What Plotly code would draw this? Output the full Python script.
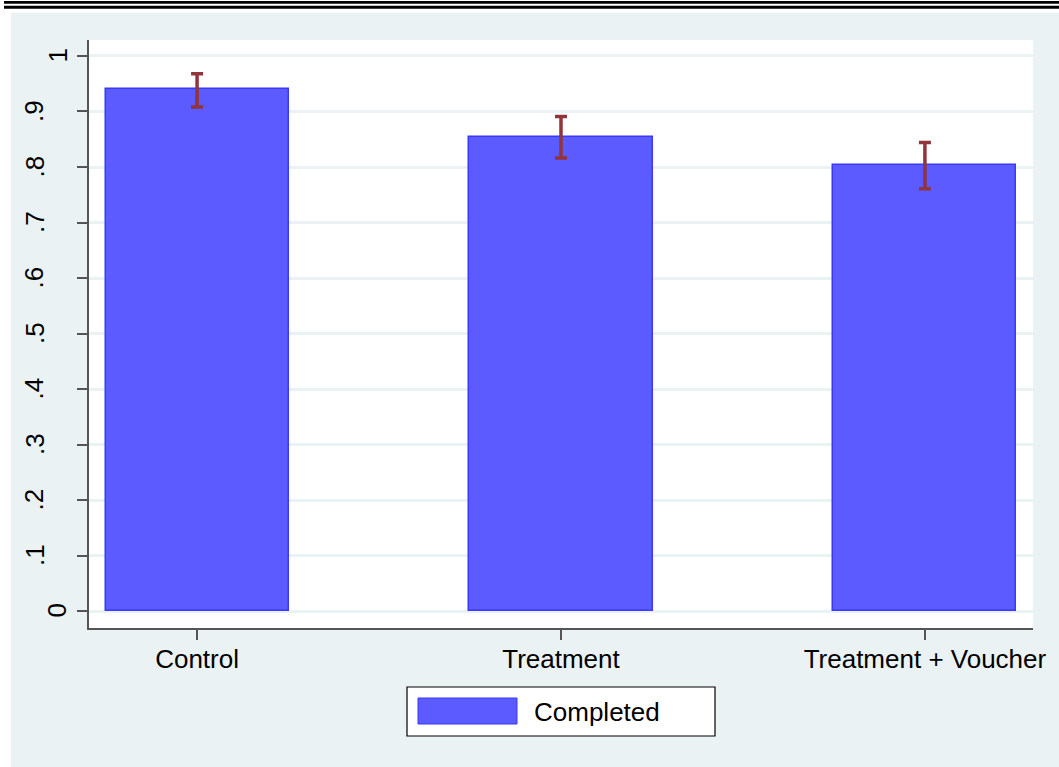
import plotly.graph_objects as go

# Data
categories = ["Control", "Treatment", "Treatment + Voucher"]
completed = [0.940, 0.854, 0.803]
ci_upper = [0.968, 0.891, 0.844]
ci_lower = [0.908, 0.816, 0.761]
y_tickvals = [0, 0.1, 0.2, 0.3, 0.4, 0.5, 0.6, 0.7, 0.8, 0.9, 1.0]
y_ticktext = ["0", ".1", ".2", ".3", ".4", ".5", ".6", ".7", ".8", ".9", "1"]
legend_label = "Completed"

W, H = 1059, 767
L, R, T, B = 89, 1033, 40, 628  # plot area in pixels

def xp(px):
    return (px - L) / (R - L)

def yp(py):
    return (B - py) / (B - T)

BG = "#EAF2F3"
BAR = "#5B5BFF"
BAR_LINE = "#3838FF"
ERR = "#90353B"
FONT = "Liberation Sans, Arial, sans-serif"

err_plus = [u - v for u, v in zip(ci_upper, completed)]
err_minus = [v - l for v, l in zip(completed, ci_lower)]

fig = go.Figure()
fig.add_trace(go.Bar(
    x=list(range(len(categories))),
    y=completed,
    width=0.503,
    name=legend_label,
    marker=dict(color=BAR, line=dict(color=BAR_LINE, width=1.5)),
    error_y=dict(type="data", symmetric=False, array=err_plus, arrayminus=err_minus,
                 color=ERR, thickness=3.5, width=6),
    showlegend=False,
    hoverinfo="skip",
))

shapes = []
# white strips on the left and top
shapes.append(dict(type="rect", xref="paper", yref="paper", x0=xp(0), x1=xp(11), y0=yp(0), y1=yp(H),
                   fillcolor="white", line=dict(width=0), layer="below"))
shapes.append(dict(type="rect", xref="paper", yref="paper", x0=xp(0), x1=xp(W), y0=yp(0), y1=yp(12.5),
                   fillcolor="white", line=dict(width=0), layer="below"))
# double black rules on top
shapes.append(dict(type="rect", xref="paper", yref="paper", x0=xp(4), x1=xp(W), y0=yp(1), y1=yp(3.7),
                   fillcolor="black", line=dict(width=0)))
shapes.append(dict(type="rect", xref="paper", yref="paper", x0=xp(4), x1=xp(W), y0=yp(5.7), y1=yp(8.7),
                   fillcolor="black", line=dict(width=0)))
# legend box
shapes.append(dict(type="rect", xref="paper", yref="paper", x0=xp(407), x1=xp(715), y0=yp(687), y1=yp(736),
                   fillcolor="white", line=dict(color="black", width=1.2)))
shapes.append(dict(type="rect", xref="paper", yref="paper", x0=xp(418), x1=xp(517), y0=yp(698), y1=yp(724),
                   fillcolor=BAR, line=dict(color=BAR_LINE, width=1)))

annotations = [dict(text=legend_label, xref="paper", yref="paper", x=xp(532), y=yp(712),
                    xanchor="left", yanchor="middle", showarrow=False,
                    font=dict(family=FONT, size=26, color="black"))]

# rotated y tick labels (Stata places single-digit labels further right)
for v, t in zip(y_tickvals, y_ticktext):
    cx = 57.5 if len(t) == 1 else 34.5
    annotations.append(dict(text=t, xref="paper", yref="y", x=xp(cx), y=v,
                            xanchor="center", yanchor="middle", textangle=-90, showarrow=False,
                            font=dict(family=FONT, size=26, color="black")))

fig.update_layout(
    width=W, height=H, autosize=False,
    margin=dict(l=L, r=W - R, t=T, b=H - B, pad=0),
    paper_bgcolor=BG, plot_bgcolor="white",
    shapes=shapes, annotations=annotations,
    font=dict(family=FONT, size=26, color="black"),
    bargap=0,
)
fig.update_xaxes(
    range=[-0.297, 2.297], tickvals=list(range(len(categories))), ticktext=categories,
    showgrid=False, zeroline=False, showline=True, linecolor="#555555", linewidth=1.5,
    ticks="outside", ticklen=10, tickwidth=1.5, tickcolor="#555555",
    tickfont=dict(family=FONT, size=26, color="black"),
    ticklabelstandoff=-3,
)
fig.update_yaxes(
    range=[-0.0305, 1.0288], tickvals=y_tickvals, showticklabels=False,
    showgrid=True, gridcolor=BG, gridwidth=2.5, zeroline=False,
    showline=True, linecolor="#555555", linewidth=1.5,
    ticks="outside", ticklen=10, tickwidth=1.5, tickcolor="#555555",
)

fig.write_html("out.html", config={"displayModeBar": False},
               post_script="document.body.style.margin='0';document.body.style.overflow='hidden';")
